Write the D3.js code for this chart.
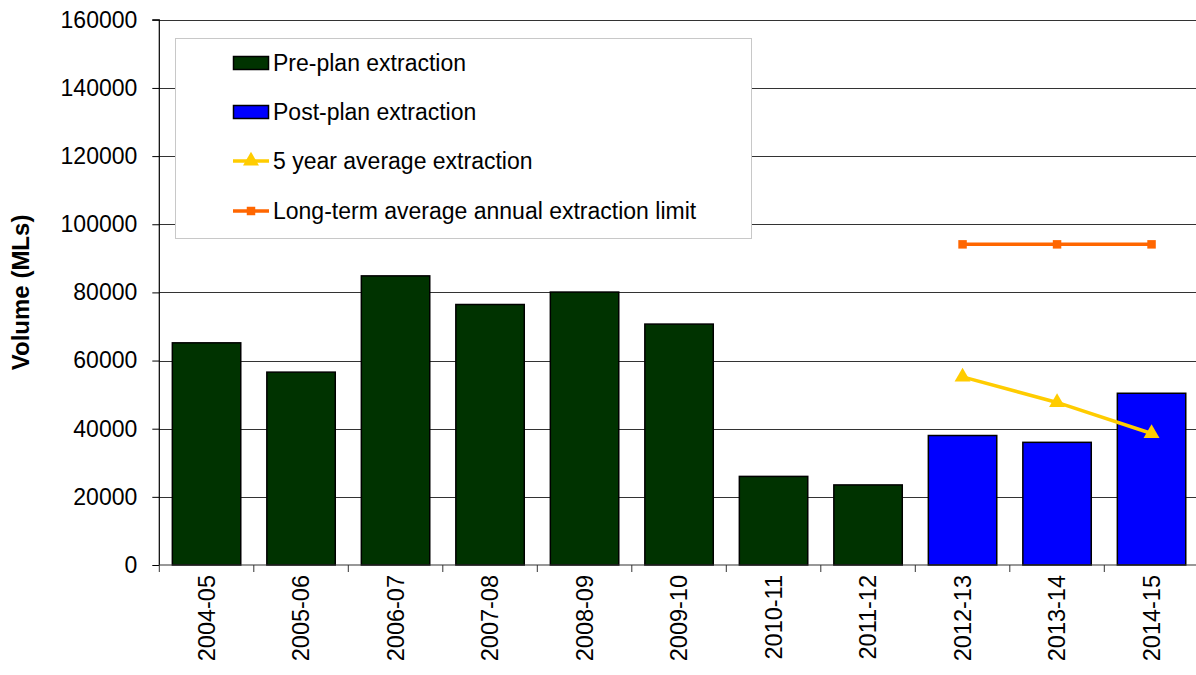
<!DOCTYPE html>
<html>
<head>
<meta charset="utf-8">
<script src="https://cdn.jsdelivr.net/npm/d3@7"></script>
<style>
  html, body { margin: 0; padding: 0; background: #fff; }
  svg { display: block; font-family: "Liberation Sans", Arial, sans-serif; }
</style>
</head>
<body>
<svg id="chart" width="1196" height="675"></svg>
<script>
const categories = ["2004-05","2005-06","2006-07","2007-08","2008-09","2009-10","2010-11","2011-12","2012-13","2013-14","2014-15"];
const prePlan   = [65200, 56600, 84850, 76450, 80100, 70700, 26000, 23500, null, null, null];
const postPlan  = [null, null, null, null, null, null, null, null, 38000, 36000, 50400];
const fiveYearAvg = [null, null, null, null, null, null, null, null, 55200, 47700, 38600];
const ltLimit   = [null, null, null, null, null, null, null, null, 94100, 94100, 94100];
const yTicks = [0, 20000, 40000, 60000, 80000, 100000, 120000, 140000, 160000];
const legendLabels = ["Pre-plan extraction", "Post-plan extraction", "5 year average extraction", "Long-term average annual extraction limit"];

const colors = { pre: "#003300", post: "#0000FF", avg: "#FFCC00", limit: "#FF6600" };

const svg = d3.select("#chart");
const pLeft = 159.3, pRight = 1198.8, pTop = 19.8, pBottom = 565;

const x = d3.scaleBand().domain(categories).range([pLeft, pRight]).paddingInner(0.276).paddingOuter(0.138);
const y = d3.scaleLinear().domain([0, 160000]).range([pBottom, pTop]);

// gridlines
svg.append("g").selectAll("line").data(yTicks.filter(d => d > 0)).join("line")
  .attr("x1", pLeft).attr("x2", pRight)
  .attr("y1", d => Math.round(y(d)) + 0.5).attr("y2", d => Math.round(y(d)) + 0.5)
  .attr("stroke", "#333").attr("stroke-width", 1);

// bars
const bars = svg.append("g");
function drawBars(vals, fill) {
  bars.append("g").selectAll("rect").data(categories.map((c, i) => ({c, v: vals[i]})).filter(d => d.v != null))
    .join("rect")
    .attr("x", d => x(d.c)).attr("width", x.bandwidth())
    .attr("y", d => y(d.v)).attr("height", d => y(0) - y(d.v))
    .attr("fill", fill).attr("stroke", "#000").attr("stroke-width", 1.5);
}
drawBars(prePlan, colors.pre);
drawBars(postPlan, colors.post);

// y axis
const yAxis = d3.axisLeft(y).tickValues(yTicks).tickSize(7).tickPadding(15).tickFormat(d3.format("d"));
const ya = svg.append("g").attr("transform", `translate(${pLeft},0)`).call(yAxis);
ya.select(".domain").attr("stroke", "#000").attr("stroke-width", 1.2).attr("d", `M-7,${pTop}H0V${pBottom}`);
ya.selectAll(".tick line").attr("stroke", "#000");
ya.selectAll("text").attr("font-size", 23).attr("fill", "#000").attr("font-family", "Liberation Sans, Arial, sans-serif");

// x axis
const xAxis = d3.axisBottom(x).tickSize(0).tickPadding(0);
const xa = svg.append("g").attr("transform", `translate(0,${pBottom})`).call(xAxis);
xa.select(".domain").attr("stroke", "#333").attr("stroke-width", 1.2).attr("d", `M${pLeft},0H${pRight}`);
const step = x.step();
xa.selectAll(".bt").data(categories).join("line").attr("class", "bt")
  .attr("x1", (d, i) => pLeft + i * step).attr("x2", (d, i) => pLeft + i * step)
  .attr("y1", 0).attr("y2", 7).attr("stroke", "#333").attr("stroke-width", 1);
xa.selectAll(".tick text")
  .attr("font-size", 23.5).attr("fill", "#000").attr("font-family", "Liberation Sans, Arial, sans-serif")
  .attr("transform", "rotate(-90)")
  .attr("text-anchor", "end").attr("dy", "0.35em").attr("x", -10).attr("y", 0);

// lines
function drawLine(vals, color, marker) {
  const pts = categories.map((c, i) => ({c, v: vals[i]})).filter(d => d.v != null);
  const line = d3.line().x(d => x(d.c) + x.bandwidth() / 2).y(d => y(d.v));
  svg.append("path").datum(pts).attr("d", line).attr("fill", "none")
    .attr("stroke", color).attr("stroke-width", 3.5);
  svg.append("g").selectAll("path").data(pts).join("path")
    .attr("transform", d => `translate(${x(d.c) + x.bandwidth() / 2},${y(d.v)})`)
    .attr("d", marker).attr("fill", color);
}
const tri = d3.symbol(d3.symbolTriangle, 110)();
const sq = d3.symbol(d3.symbolSquare, 72)();
drawLine(ltLimit, colors.limit, sq);
drawLine(fiveYearAvg, colors.avg, tri);

// y title
svg.append("text").attr("transform", `translate(29,${(pTop + pBottom) / 2}) rotate(-90)`)
  .attr("text-anchor", "middle").attr("font-size", 24).attr("font-weight", "bold").text("Volume (MLs)");

// legend
const lg = svg.append("g");
lg.append("rect").attr("x", 175.5).attr("y", 38.5).attr("width", 576).attr("height", 200)
  .attr("fill", "#fff").attr("stroke", "#c8c8c8").attr("stroke-width", 1);
const rowY = [63, 112, 161, 211];
legendLabels.forEach((lab, i) => {
  const cy = rowY[i];
  if (i < 2) {
    lg.append("rect").attr("x", 233.5).attr("y", cy - 6.5).attr("width", 35).attr("height", 13)
      .attr("fill", i === 0 ? colors.pre : colors.post).attr("stroke", "#000").attr("stroke-width", 1.5);
  } else {
    const col = i === 2 ? colors.avg : colors.limit;
    lg.append("line").attr("x1", 233).attr("x2", 269).attr("y1", cy).attr("y2", cy)
      .attr("stroke", col).attr("stroke-width", 3.5);
    lg.append("path").attr("transform", `translate(251,${cy})`).attr("d", i === 2 ? tri : sq).attr("fill", col);
  }
  lg.append("text").attr("x", 273).attr("y", cy).attr("dy", "0.35em").attr("font-size", 23).attr("fill", "#000").text(lab);
});
</script>
</body>
</html>
